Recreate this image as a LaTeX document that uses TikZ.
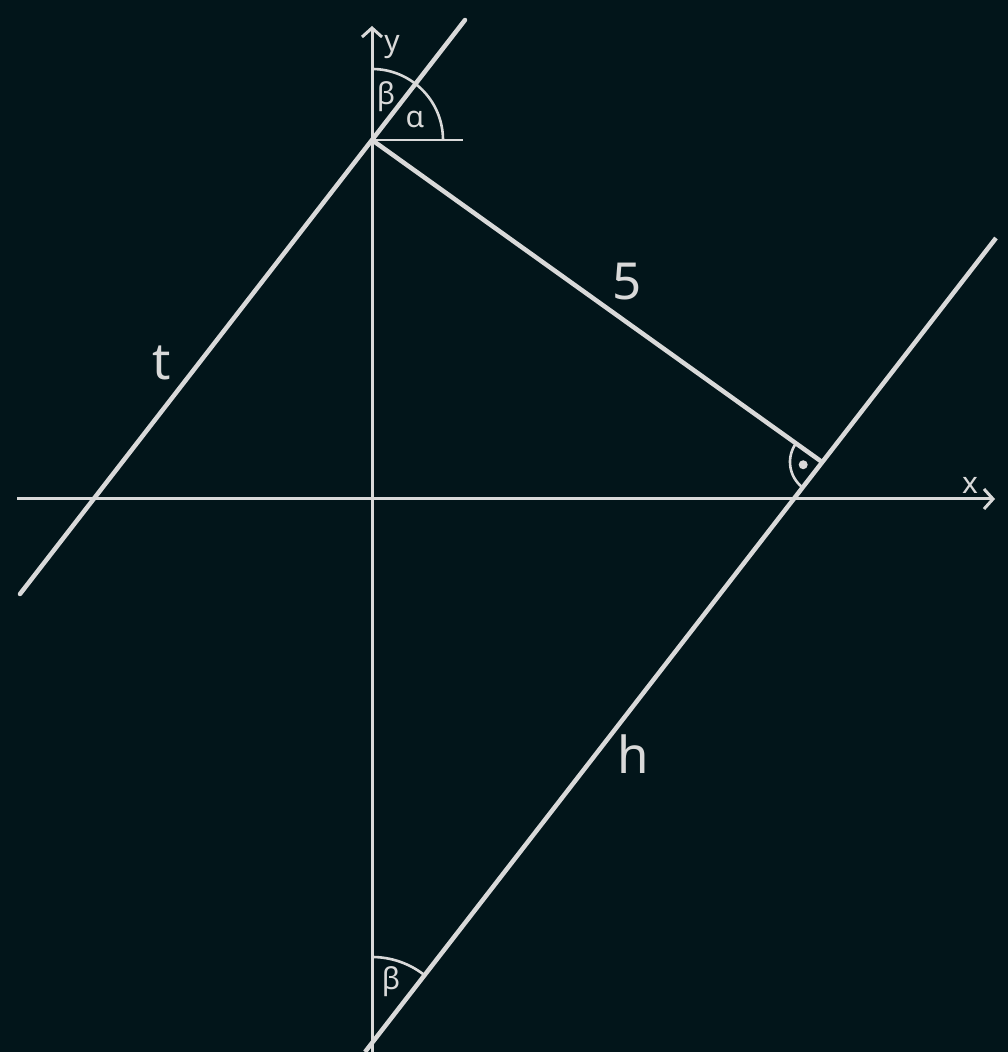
\documentclass[tikz,border=0pt]{standalone}
\usepackage{fontspec}
\setmainfont{Noto Sans}
\usetikzlibrary{arrows.meta,calc}
\definecolor{bg}{HTML}{02151A}
\definecolor{fg}{HTML}{D9D9D9}
\tikzset{
  axisline/.style={draw=fg, line width=3pt, -{Straight Barb[length=9pt,width=20pt,line width=3pt]}},
  mainline/.style={draw=fg, line width=4.5pt},
  anglearc/.style={draw=fg, line width=2.6pt},
  biglabel/.style={text=fg, font=\fontsize{51}{60}\selectfont, inner sep=0pt},
  smalllabel/.style={text=fg, font=\fontsize{30}{34}\selectfont, inner sep=0pt},
}
\begin{document}
\begin{tikzpicture}[x=1pt,y=1pt]
\fill[bg] (0,0) rectangle (1008,1052);
\useasboundingbox (0,0) rectangle (1008,1052);
% key points
\coordinate (xl) at (17,553);
\coordinate (xr) at (995,553);
\coordinate (yb) at (372,0);
\coordinate (yt) at (372,1026);
\coordinate (P) at (372,912);
\coordinate (t1) at (20,458);
\coordinate (t2) at (465,1032);
\coordinate (h1) at (365,0);
\coordinate (h2) at (996,814);
\coordinate (V) at (822,590);
\coordinate (Q) at (372,10);
\coordinate (Ph) at (463,912);
% axes
\draw[axisline] (xl) -- (xr);
\draw[axisline] (yb) -- (yt);
% lines
\draw[mainline, line cap=round] (t1) -- (t2);
\draw[mainline] (h1) -- (h2);
\draw[mainline] (P) -- (V);
\draw[anglearc] (P) -- (Ph);
% angle arcs
\draw[anglearc] ($(P)+(71,0)$) arc[start angle=0, end angle=90, radius=71];
\draw[anglearc] ($(Q)+(52.2:85)$) arc[start angle=52.2, end angle=90, radius=85];
\draw[anglearc] ($(V)+(144.4:32)$) arc[start angle=144.4, end angle=232.2, radius=32];
\fill[fg] ($(V)+(188.3:19)$) circle[radius=4.5];
% labels
\node[smalllabel] (ly) at (392,1005) {y};
\node[smalllabel] (lx) at (970,567) {x};
\node[smalllabel] (lb1) at (386,955) {β};
\node[smalllabel] (la) at (415,933) {α};
\node[smalllabel] (lb2) at (391,70) {β};
\node[biglabel] (l5) at (627,770) {5};
\node[biglabel] (lt) at (162,689) {t};
\node[biglabel] (lh) at (633,298) {h};
\end{tikzpicture}
\end{document}
